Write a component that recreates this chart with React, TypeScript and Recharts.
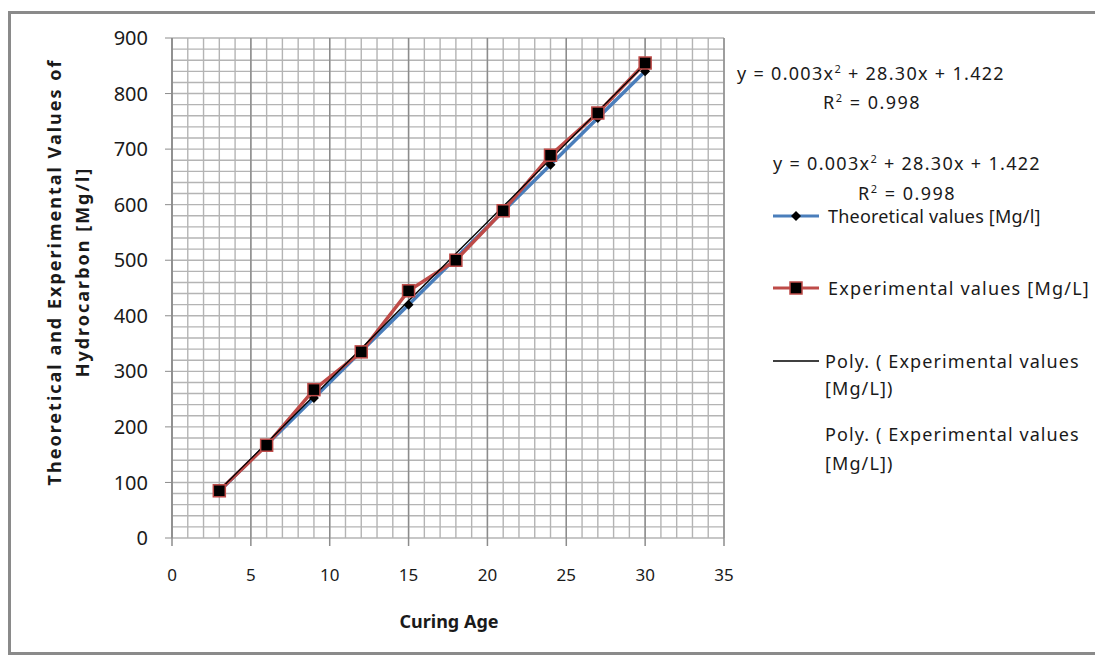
import React from 'react';
import { CartesianGrid, Line, LineChart, XAxis, YAxis } from 'recharts';

// curing age (days) and hydrocarbon values
const ages = [3, 6, 9, 12, 15, 18, 21, 24, 27, 30];
const theoretical = [84, 168, 252, 336, 420, 504, 588, 672, 756, 840];
const experimental = [85, 167, 267, 335, 445, 500, 589, 689, 765, 855];
const polyTrend = [86, 171, 256, 341, 427, 512, 597, 682, 768, 853];

const xTicks = [0, 5, 10, 15, 20, 25, 30, 35];
const yTicks = [0, 100, 200, 300, 400, 500, 600, 700, 800, 900];
const xMinor = Array.from({ length: 36 }, (_, i) => i);
const yMinor = Array.from({ length: 46 }, (_, i) => i * 20);

const data = ages.map((age, i) => ({
  age,
  theoretical: theoretical[i],
  experimental: experimental[i],
  poly: polyTrend[i],
}));

const FONT = '"Noto Sans", "Open Sans", sans-serif';
const BLUE = '#4a7ebb';
const RED = '#be4b48';

const Diamond = ({ cx, cy }: any) =>
  cx == null ? null : (
    <path d={`M${cx},${cy - 5}L${cx + 5},${cy}L${cx},${cy + 5}L${cx - 5},${cy}Z`} fill="#000" />
  );

const Square = ({ cx, cy }: any) =>
  cx == null ? null : (
    <rect x={cx - 6} y={cy - 6} width={12} height={12} fill="#000" stroke={RED} strokeWidth={1.5} />
  );

const txt = (left: number, top: number, extra: React.CSSProperties = {}): React.CSSProperties => ({
  position: 'absolute', left, top, fontFamily: FONT, fontSize: 18, color: '#1a1a1a',
  whiteSpace: 'nowrap', lineHeight: '18px', ...extra,
});

const LegendLine = ({ left, top, color, marker }: { left: number; top: number; color: string; marker?: 'diamond' | 'square' }) => (
  <svg style={{ position: 'absolute', left, top }} width={48} height={16}>
    <line x1={1} y1={8} x2={47} y2={8} stroke={color} strokeWidth={color === '#000' ? 1.5 : 3} />
    {marker === 'diamond' && <path d="M24,3L29,8L24,13L19,8Z" fill="#000" />}
    {marker === 'square' && <rect x={18} y={2} width={12} height={12} fill="#000" stroke={RED} strokeWidth={1.5} />}
  </svg>
);

const sup = <sup style={{ fontSize: 11, lineHeight: 0 }}>2</sup>;

export default function App() {
  return (
    <div style={{ position: 'relative', width: 1092, height: 650 }}>
      <div style={{ position: 'absolute', left: 0, top: 3, width: 1092, height: 644, border: '3px solid #8a8a8a', boxSizing: 'border-box' }} />
      <div style={{ position: 'absolute', left: 0, top: 0 }}>
        <LineChart width={745} height={610} data={data} margin={{ top: 30, right: 29, left: 104, bottom: 40 }}>
          <CartesianGrid stroke="#b4b4b4" strokeWidth={1.4} horizontalValues={yMinor} verticalValues={xMinor} />
          <CartesianGrid stroke="#8c8c8c" strokeWidth={1.4} horizontal={false} verticalValues={xTicks} />
          <XAxis
            dataKey="age" type="number" domain={[0, 35]} ticks={xTicks} interval={0}
            axisLine={false} tickSize={8} tickMargin={23}
            tickLine={{ stroke: '#8c8c8c', strokeWidth: 1.5 }}
            tick={{ fill: '#1a1a1a', fontSize: 17, fontFamily: FONT }} height={40}
          />
          <YAxis
            type="number" domain={[0, 900]} ticks={yTicks} interval={0} width={60}
            axisLine={{ stroke: '#8c8c8c', strokeWidth: 1.5 }} tickSize={7} tickMargin={17}
            tickLine={{ stroke: '#8c8c8c' }}
            tick={{ fill: '#1a1a1a', fontSize: 20, fontFamily: FONT }}
          />
          <Line dataKey="theoretical" stroke={BLUE} strokeWidth={3.5} dot={<Diamond />} activeDot={false} isAnimationActive={false} />
          <Line dataKey="experimental" stroke={RED} strokeWidth={3.5} dot={false} activeDot={false} isAnimationActive={false} />
          <Line dataKey="poly" type="monotone" stroke="#000" strokeWidth={1.3} dot={false} activeDot={false} isAnimationActive={false} />
          <Line dataKey="experimental" stroke="none" dot={<Square />} activeDot={false} legendType="none" isAnimationActive={false} />
        </LineChart>
      </div>

      <div style={{ position: 'absolute', left: 60, top: 264, width: 0, height: 0 }}>
        <div style={{
          position: 'absolute', left: 0, top: 0, transform: 'translate(-50%, -50%) rotate(-90deg)',
          fontFamily: FONT, fontSize: 18, fontWeight: 700, color: '#1a1a1a', textAlign: 'center',
          whiteSpace: 'nowrap', lineHeight: '28px', letterSpacing: 2,
        }}>
          Theoretical and Experimental Values of<br />Hydrocarbon [Mg/l]
        </div>
      </div>

      <div style={txt(441, 602, { transform: 'translateX(-50%)', fontWeight: 700, fontSize: 18, lineHeight: '22px' })}>Curing Age</div>

      <div style={txt(729, 56, { letterSpacing: 1.3 })}>y = 0.003x{sup} + 28.30x + 1.422</div>
      <div style={txt(815, 85, { letterSpacing: 1.5 })}>R{sup} = 0.998</div>
      <div style={txt(765, 146, { letterSpacing: 1.3 })}>y = 0.003x{sup} + 28.30x + 1.422</div>
      <div style={txt(850, 176, { letterSpacing: 1.5 })}>R{sup} = 0.998</div>

      <LegendLine left={764} top={200} color={BLUE} marker="diamond" />
      <div style={txt(820, 199, { letterSpacing: 0.2 })}>Theoretical values [Mg/l]</div>
      <LegendLine left={764} top={272} color={RED} marker="square" />
      <div style={txt(820, 271, { letterSpacing: 1.2 })}>Experimental values [Mg/L]</div>
      <LegendLine left={764} top={345} color="#000" />
      <div style={txt(817, 344, { lineHeight: '27px', marginTop: -4, letterSpacing: 1.1 })}>Poly. ( Experimental values<br />[Mg/L])</div>
      <div style={txt(817, 417, { lineHeight: '29px', marginTop: -5, letterSpacing: 1.1 })}>Poly. ( Experimental values<br />[Mg/L])</div>
    </div>
  );
}
